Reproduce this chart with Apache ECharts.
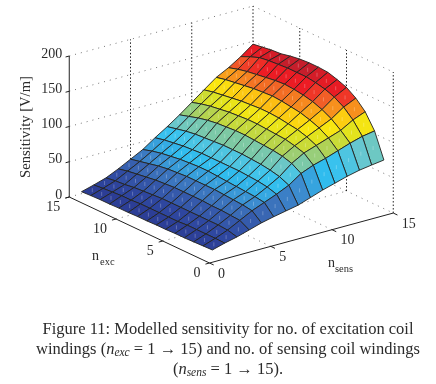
<!DOCTYPE html>
<html>
<head>
<meta charset="utf-8">
<style>html,body{margin:0;padding:0;background:#fff}#c{width:436px;height:384px}</style>
<script src="https://cdn.jsdelivr.net/npm/echarts@6/dist/echarts.min.js"></script>
</head>
<body>
<div id="c"></div>
<script>
const nSens = [1,2,3,4,5,6,7,8,9,10,11,12,13,14,15];
const nExc = [1,2,3,4,5,6,7,8,9,10,11,12,13,14,15];
// one row per nSens (1..15), one column per nExc (1..15)
const sensitivity = [
  [7.5,7,6.5,6,6,5.5,5.5,5,5,4.5,4.5,4,4,3.5,2.8],
  [12.5,13,13,13,13,12,12,12,12,12,11,11,10,9,7.6],
  [16.5,20,21,21,21,21,21,21,21,20,19,18,16,15,13],
  [21.7,29,30,31,31,32,32,32,32,31,30,28,26,24,21],
  [27,38,40,41,42,43,43,43,43,42,41,39,36,33,30],
  [31,45,47,48,49,50,51,52,52,51,50,48,46,43,39],
  [34.5,52,56,58,59,60,60,60,60,60,59,58,56,54,51],
  [38,60,66,69,71,72,73,73,73,72,71,70,68,65,62],
  [44,72,80,84,86,87,88,89,89,88,87,85,82,78,74],
  [50,79,90,94,97,98,99,100,100,99,98,96,94,91,87],
  [55,84,96,102,106,108,110,111,111,110,109,107,105,103,100],
  [60,90,102,110,115,119,121,123,124,123,122,120,118,116,113],
  [64,96,108,118,125,130,133,135,136,135,133,131,129,126,122],
  [66.6,101,118,130,138,143,146,148,148,148,147,146,144,139,133],
  [69,104,125,138,147,152,156,157,157,156,154,151,150,148,146]
];
const sensTicks = [0,5,10,15];
const excTicks = [0,5,10,15];
const zTicks = [0,50,100,150,200];
const colorLevels = [0,12,28,38,50,57,64,74,85,95,103,112,120,127,133,144,149];
const colorValues = ['#2b3990','#2e469f','#3a68b4','#3c8ccf','#30bcee','#3cc4ee','#66c7d0','#80c99e','#b5d34e','#dfe21f','#fbe60f','#fdb913','#f58220','#f0502a','#ed1c24','#e31c25','#be1e2d'];

// orthographic view of the 3D box (screen units per data unit)
const view = {x0:209.5, y0:263, sx:12.25, sy:-3.33, ex:-9.35, ey:-4.4, zy:-0.705};
const project = (s,e,z) => [view.x0+view.sx*s+view.ex*e, view.y0+view.sy*s+view.ey*e+view.zy*z];
const hex = c => [1,3,5].map(i=>parseInt(c.substr(i,2),16));
function colorOf(z){
  let i=0; while(i<colorLevels.length-2 && z>colorLevels[i+1]) i++;
  const t=Math.max(0,Math.min(1,(z-colorLevels[i])/(colorLevels[i+1]-colorLevels[i])));
  const a=hex(colorValues[i]),b=hex(colorValues[i+1]);
  return 'rgb('+a.map((v,k)=>Math.round(v+(b[k]-v)*t)).join(',')+')';
}

// surface cells, back to front
const cells=[];
for(let si=0;si<nSens.length-1;si++) for(let ei=0;ei<nExc.length-1;ei++) cells.push([si,ei]);
cells.sort((a,b)=>(b[0]+b[1])-(a[0]+a[1]));

// box frame
const sMax=15,eMax=15,zMax=200;
const dotted=[],verticalDotted=[];
zTicks.forEach(z=>{
  dotted.push([[0,eMax,z],[sMax,eMax,z]]);
  dotted.push([[sMax,eMax,z],[sMax,0,z]]);
});
sensTicks.forEach(s=>{
  if(s>0) verticalDotted.push([[s,eMax,0],[s,eMax,zMax]]);
  if(s>0&&s<sMax) dotted.push([[s,0,0],[s,eMax,0]]);
});
excTicks.forEach(e=>{
  if(e>0&&e<eMax) dotted.push([[0,e,0],[sMax,e,0]]);
  if(e>0&&e<eMax) verticalDotted.push([[sMax,e,0],[sMax,e,zMax]]);
});
verticalDotted.push([[sMax,0,0],[sMax,0,zMax]]);
const axesLines=[[[0,0,0],[sMax,0,0]],[[0,0,0],[0,eMax,0]],[[0,eMax,0],[0,eMax,zMax]]];
sensTicks.forEach(s=>axesLines.push([[s,0,0],[s,-0.45,0]]));
excTicks.forEach(e=>axesLines.push([[0,e,0],[-0.33,e,0]]));
zTicks.forEach(z=>axesLines.push([[0,eMax,z],[-0.3,eMax,z]]));

const tickLabels=[];
sensTicks.forEach(s=>tickLabels.push({p:[s,0,0],t:String(s),dx:8.6,dy:11,align:'left'}));
excTicks.forEach(e=>tickLabels.push({p:[0,e,0],t:String(e),dx:-9,dy:10.5,align:'right'}));
zTicks.forEach(z=>tickLabels.push({p:[0,eMax,z],t:String(z),dx:-7,dy:-2,align:'right'}));

const serif='"Liberation Serif"';
const ink='#2b2b2b';
function segSeries(list,style,z){
  return {type:'custom',coordinateSystem:'cartesian2d',silent:true,clip:false,z:z,
    data:list.map((_,i)=>[i]),encode:{x:0,y:0},
    renderItem(params,api){
      const seg=list[params.dataIndex];
      const a=api.coord(project(...seg[0])),b=api.coord(project(...seg[1]));
      return {type:'line',shape:{x1:a[0],y1:a[1],x2:b[0],y2:b[1]},style:Object.assign({fill:null},style)};
    }};
}
const capFont='16.5px '+serif;
const capRich={i:{font:'italic 16.5px '+serif,fill:ink},s:{font:'italic 11.5px '+serif,fill:ink,verticalAlign:'bottom',lineHeight:12}};
const option={
  animation:false,
  backgroundColor:'#fff',
  grid:{left:0,top:0,width:436,height:384,show:false},
  xAxis:{type:'value',min:0,max:436,show:false},
  yAxis:{type:'value',min:0,max:384,inverse:true,show:false},
  series:[
    segSeries(dotted,{stroke:'#777',lineWidth:1,lineDash:[1,5]},1),
    segSeries(verticalDotted,{stroke:'#222',lineWidth:1,lineDash:[1.5,2]},1),
    segSeries(axesLines,{stroke:'#222',lineWidth:1},2),
    {type:'custom',coordinateSystem:'cartesian2d',silent:true,clip:false,z:3,
     data:cells.map((_,i)=>[i]),encode:{x:0,y:0},
     renderItem(params,api){
       const [si,ei]=cells[params.dataIndex];
       const pts=[[si,ei],[si+1,ei],[si+1,ei+1],[si,ei+1]].map(([a,b])=>api.coord(project(nSens[a],nExc[b],sensitivity[a][b])));
       const cx=(pts[0][0]+pts[1][0]+pts[2][0]+pts[3][0])/4,cy=(pts[0][1]+pts[1][1]+pts[2][1]+pts[3][1])/4;
       return {type:'group',children:[
         {type:'polygon',shape:{points:pts},style:{fill:colorOf(sensitivity[si][ei]),stroke:'#23231f',lineWidth:0.9,lineJoin:'round'}},
         {type:'line',shape:{x1:cx,y1:cy-2,x2:cx,y2:cy+2},style:{stroke:'rgba(255,255,255,0.25)',lineWidth:1}}
       ]};
     }},
    {type:'custom',coordinateSystem:'cartesian2d',silent:true,clip:false,z:4,
     data:tickLabels.map((_,i)=>[i]),encode:{x:0,y:0},
     renderItem(params,api){
       const l=tickLabels[params.dataIndex];
       const c=api.coord(project(...l.p));
       return {type:'text',style:{x:c[0]+l.dx,y:c[1]+l.dy,text:l.t,align:l.align,verticalAlign:'middle',fill:ink,font:'14px '+serif}};
     }}
  ],
  graphic:[
    {type:'text',silent:true,rotation:Math.PI/2,x:26,y:127,style:{text:'Sensitivity [V/m]',align:'center',verticalAlign:'middle',fill:ink,font:'14.6px '+serif}},
    {type:'text',silent:true,x:92,y:256,style:{text:'n',verticalAlign:'middle',fill:ink,font:'14px '+serif}},
    {type:'text',silent:true,x:100,y:262,style:{text:'exc',verticalAlign:'middle',fill:ink,font:'10.5px '+serif}},
    {type:'text',silent:true,x:328,y:263,style:{text:'n',verticalAlign:'middle',fill:ink,font:'14px '+serif}},
    {type:'text',silent:true,x:335,y:269,style:{text:'sens',verticalAlign:'middle',fill:ink,font:'10.5px '+serif}},
    {type:'text',silent:true,x:228,y:330,style:{text:'Figure 11: Modelled sensitivity for no. of excitation coil',align:'center',verticalAlign:'middle',fill:ink,font:capFont}},
    {type:'text',silent:true,x:228,y:350,style:{align:'center',verticalAlign:'middle',fill:ink,font:capFont,
      text:'windings ({i|n}{s|exc} = 1 → 15) and no. of sensing coil windings',rich:capRich}},
    {type:'text',silent:true,x:228,y:370,style:{align:'center',verticalAlign:'middle',fill:ink,font:capFont,
      text:'({i|n}{s|sens} = 1 → 15).',rich:capRich}}
  ]
};
echarts.init(document.getElementById('c'),null,{renderer:'canvas'}).setOption(option);
</script>
</body>
</html>
